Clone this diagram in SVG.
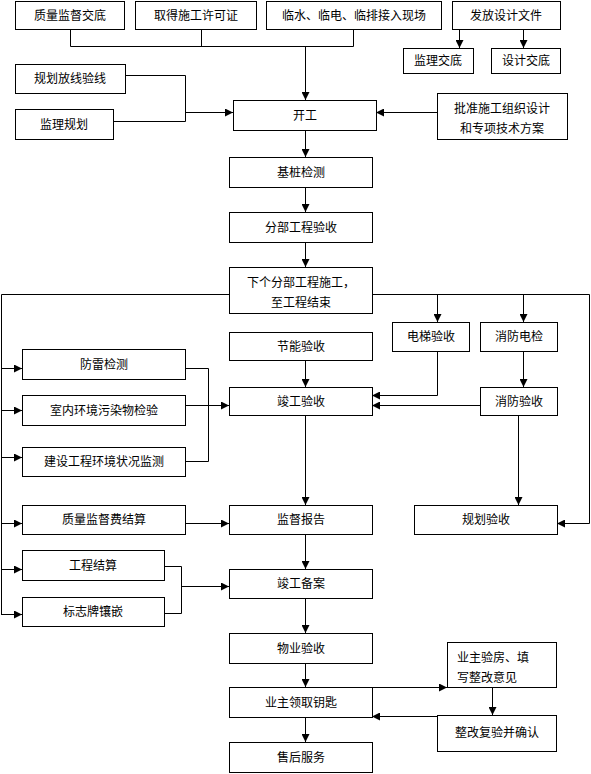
<svg xmlns="http://www.w3.org/2000/svg" width="591" height="774" viewBox="0 0 591 774">
<defs>
<marker id="ah" markerUnits="userSpaceOnUse" markerWidth="8" markerHeight="8" refX="8" refY="4" orient="auto">
<path d="M0,0 L8,4 L0,8 z" fill="#000"/>
</marker>
<style>
.b{fill:#fff;stroke:#000;stroke-width:1}
.t{font-family:"Liberation Sans","Noto Sans CJK SC",sans-serif;font-size:12px;fill:#000;text-anchor:middle}
.l{text-anchor:start}
.c{fill:none;stroke:#000;stroke-width:1}
.a{marker-end:url(#ah)}
</style>
</defs>
<rect width="591" height="774" fill="#fff"/>
<g id="connectors">
<path class="c" d="M70.5,29 V46.5 H353.5 V29 M201.5,29 V46.5"/>
<path class="c a" d="M305.5,46 V100"/>
<path class="c a" d="M459.5,29 V48"/>
<path class="c a" d="M523.5,29 V48"/>
<path class="c" d="M125,75.5 H185.5 V121.5 H113"/>
<path class="c a" d="M185,112.5 H233"/>
<path class="c a" d="M437,112.5 H376"/>
<path class="c a" d="M305.5,130 V157"/>
<path class="c a" d="M305.5,187 V212"/>
<path class="c a" d="M305.5,242 V267"/>
<path class="c" d="M229,294.5 H1.5 V614"/>
<path class="c a" d="M372,294.5 H589.5 V523.5 H557"/>
<path class="c a" d="M437.5,294 V322"/>
<path class="c a" d="M523.5,294 V322"/>
<path class="c a" d="M1,368.5 H22"/>
<path class="c a" d="M1,410.5 H22"/>
<path class="c a" d="M1,457.5 H22"/>
<path class="c a" d="M1,523.5 H22"/>
<path class="c a" d="M1,569.5 H22"/>
<path class="c a" d="M1,614.5 H22"/>
<path class="c" d="M185,368.5 H208.5 V461.5 H185"/>
<path class="c a" d="M185,405.5 H229"/>
<path class="c a" d="M305.5,360 V387"/>
<path class="c a" d="M437.5,351 V395.5 H372"/>
<path class="c a" d="M523.5,351 V387"/>
<path class="c a" d="M480,405.5 H372"/>
<path class="c a" d="M305.5,415 V505"/>
<path class="c a" d="M518.5,415 V505"/>
<path class="c a" d="M185,523.5 H229"/>
<path class="c" d="M164,566.5 H181.5 V613.5 H164"/>
<path class="c a" d="M181,586.5 H229"/>
<path class="c a" d="M305.5,534 V569"/>
<path class="c a" d="M305.5,598 V633"/>
<path class="c a" d="M305.5,663 V687"/>
<path class="c a" d="M305.5,717 V742"/>
<path class="c a" d="M372,687.5 H447"/>
<path class="c a" d="M492.5,687 V715"/>
<path class="c a" d="M437,716.5 H372"/>
</g>
<g id="n1"><rect class="b" x="15.5" y="1.5" width="109" height="28"/><text class="t" x="70" y="20">质量监督交底</text></g>
<g id="n2"><rect class="b" x="135.5" y="1.5" width="121" height="28"/><text class="t" x="196" y="20">取得施工许可证</text></g>
<g id="n3"><rect class="b" x="266.5" y="1.5" width="175" height="28"/><text class="t" x="354" y="20">临水、临电、临排接入现场</text></g>
<g id="n4"><rect class="b" x="452.5" y="1.5" width="108" height="28"/><text class="t" x="506" y="20">发放设计文件</text></g>
<g id="n5"><rect class="b" x="403.5" y="48.5" width="70" height="25"/><text class="t" x="438" y="65">监理交底</text></g>
<g id="n6"><rect class="b" x="491.5" y="48.5" width="69" height="25"/><text class="t" x="526" y="65">设计交底</text></g>
<g id="n7"><rect class="b" x="15.5" y="64.5" width="110" height="29"/><text class="t" x="70" y="83">规划放线验线</text></g>
<g id="n8"><rect class="b" x="15.5" y="109.5" width="98" height="30"/><text class="t" x="64" y="129">监理规划</text></g>
<g id="n9"><rect class="b" x="233.5" y="100.5" width="143" height="30"/><text class="t" x="305" y="120">开工</text></g>
<g id="n10"><rect class="b" x="437.5" y="93.5" width="130" height="46"/><text class="t" x="502" y="113">批准施工组织设计</text><text class="t" x="502" y="133">和专项技术方案</text></g>
<g id="n11"><rect class="b" x="229.5" y="157.5" width="143" height="30"/><text class="t" x="301" y="177">基桩检测</text></g>
<g id="n12"><rect class="b" x="229.5" y="212.5" width="143" height="30"/><text class="t" x="301" y="232">分部工程验收</text></g>
<g id="n13"><rect class="b" x="229.5" y="267.5" width="143" height="46"/><text class="t" x="301" y="287">下个分部工程施工，</text><text class="t" x="301" y="307">至工程结束</text></g>
<g id="n14"><rect class="b" x="392.5" y="322.5" width="77" height="29"/><text class="t" x="431" y="341">电梯验收</text></g>
<g id="n15"><rect class="b" x="480.5" y="322.5" width="77" height="29"/><text class="t" x="519" y="341">消防电检</text></g>
<g id="n16"><rect class="b" x="229.5" y="332.5" width="143" height="28"/><text class="t" x="301" y="351">节能验收</text></g>
<g id="n17"><rect class="b" x="229.5" y="387.5" width="143" height="28"/><text class="t" x="301" y="406">竣工验收</text></g>
<g id="n18"><rect class="b" x="480.5" y="387.5" width="77" height="28"/><text class="t" x="519" y="406">消防验收</text></g>
<g id="n19"><rect class="b" x="22.5" y="349.5" width="163" height="30"/><text class="t" x="104" y="369">防雷检测</text></g>
<g id="n20"><rect class="b" x="22.5" y="395.5" width="163" height="30"/><text class="t" x="104" y="415">室内环境污染物检验</text></g>
<g id="n21"><rect class="b" x="22.5" y="447.5" width="163" height="29"/><text class="t" x="104" y="466">建设工程环境状况监测</text></g>
<g id="n22"><rect class="b" x="22.5" y="505.5" width="163" height="29"/><text class="t" x="104" y="524">质量监督费结算</text></g>
<g id="n23"><rect class="b" x="229.5" y="505.5" width="143" height="29"/><text class="t" x="301" y="524">监督报告</text></g>
<g id="n24"><rect class="b" x="414.5" y="505.5" width="143" height="29"/><text class="t" x="486" y="524">规划验收</text></g>
<g id="n25"><rect class="b" x="22.5" y="550.5" width="142" height="30"/><text class="t" x="93" y="570">工程结算</text></g>
<g id="n26"><rect class="b" x="22.5" y="597.5" width="142" height="29"/><text class="t" x="93" y="616">标志牌镶嵌</text></g>
<g id="n27"><rect class="b" x="229.5" y="569.5" width="143" height="29"/><text class="t" x="301" y="588">竣工备案</text></g>
<g id="n28"><rect class="b" x="229.5" y="633.5" width="143" height="30"/><text class="t" x="301" y="653">物业验收</text></g>
<g id="n29"><rect class="b" x="229.5" y="687.5" width="143" height="30"/><text class="t" x="301" y="707">业主领取钥匙</text></g>
<g id="n30"><rect class="b" x="229.5" y="742.5" width="143" height="30"/><text class="t" x="301" y="762">售后服务</text></g>
<g id="n31"><rect class="b" x="447.5" y="642.5" width="109" height="45"/><text class="t l" x="457" y="662">业主验房、填</text><text class="t l" x="457" y="682">写整改意见</text></g>
<g id="n32"><rect class="b" x="437.5" y="715.5" width="119" height="36"/><text class="t" x="497" y="737">整改复验并确认</text></g>
</svg>
